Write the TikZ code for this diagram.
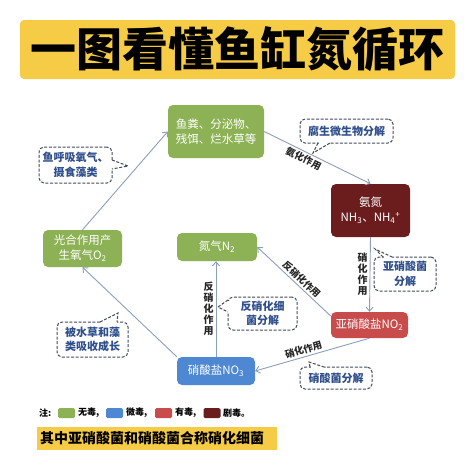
\documentclass[tikz,border=0pt]{standalone}
\usepackage{fontspec}
\setmainfont{Noto Sans CJK SC}
\usetikzlibrary{arrows.meta}
\definecolor{cgreen}{HTML}{8DB255}
\definecolor{cdred}{HTML}{6B1D1D}
\definecolor{cred}{HTML}{C94C4C}
\definecolor{cblue}{HTML}{4E88D2}
\definecolor{cyellow}{HTML}{F6CB45}
\definecolor{cbord}{HTML}{434B5A}
\definecolor{ctext}{HTML}{2E4E8C}
\definecolor{cline}{HTML}{8C9FBA}
\tikzset{
  box/.style={rounded corners=5pt, text=white, align=center, inner sep=0pt,
    font=\fontsize{11.5}{15}\selectfont},
  arr/.style={draw=cline, line width=0.9pt, -{Straight Barb[length=4pt,width=7pt]}},
  bubble/.style={draw=cbord, dash pattern=on 3pt off 1.6pt, line width=1pt,
    rounded corners=5pt, fill=white, text=ctext, align=center, inner sep=0pt,
    font=\bfseries\fontsize{11}{14.5}\selectfont},
  tailline/.style={draw=cbord, dash pattern=on 3pt off 1.6pt, line width=1pt},
  elabel/.style={font=\bfseries\fontsize{9.5}{11}\selectfont, text=black!85, inner sep=2pt},
  vlabel/.style={font=\bfseries\fontsize{10}{11}\selectfont, text=black!85, align=center, inner sep=2pt},
  swatch/.style={rounded corners=1.5pt, minimum width=17pt, minimum height=10pt, inner sep=0pt},
  legtext/.style={font=\bfseries\fontsize{9}{10}\selectfont, anchor=west, inner sep=0pt}
}
\begin{document}
\begin{tikzpicture}[x=1pt,y=-1pt]
\useasboundingbox (0,0) rectangle (474,474);
\fill[white] (0,0) rectangle (474,474);

% title
\node[fill=cyellow, rounded corners=4pt, minimum width=435pt, minimum height=59pt,
  inner sep=0pt, font=\bfseries\fontsize{46}{50}\selectfont] (title) at (237.5,49.5) {一图看懂鱼缸氮循环};

% main nodes
\node[box, fill=cgreen, minimum width=96pt, minimum height=53pt] (n1) at (216,131.5) {鱼粪、分泌物、\\残饵、烂水草等};
\node[box, fill=cdred, minimum width=79pt, minimum height=53pt] (n2) at (370.5,210.5) {氨氮\\NH\textsubscript{3}、NH\textsubscript{4}\textsuperscript{+}};
\node[box, fill=cred, minimum width=77pt, minimum height=26pt] (n3) at (369.5,325) {亚硝酸盐NO\textsubscript{2}};
\node[box, fill=cblue, minimum width=78pt, minimum height=28pt] (n4) at (216,371) {硝酸盐NO\textsubscript{3}};
\node[box, fill=cgreen, minimum width=80pt, minimum height=28pt] (n5) at (217,247) {氮气N\textsubscript{2}};
\node[box, fill=cgreen, minimum width=79pt, minimum height=37pt] (n6) at (82.5,248.5) {光合作用产\\生氧气O\textsubscript{2}};

% connectors
\draw[arr] (n1.east) -- (n2.north) node[elabel, pos=0.4, sloped, below] {氨化作用};
\draw[arr] (n2.south) -- (n3.north) node[vlabel, midway, left] {硝\\化\\作\\用};
\draw[arr] (n3.south) -- (n4.east) node[elabel, pos=0.56, sloped, above] {硝化作用};
\draw[arr] (n3.167) -- (n5.east) node[elabel, pos=0.46, sloped, above] {反硝化作用};
\draw[arr] (n4.north) -- (n4.north |- n5.south) node[vlabel, midway, left] {反\\硝\\化\\作\\用};
\draw[arr] (n4.north west) -- (n6.south);
\draw[arr] (n6.north) -- (n1.west);

% callouts
\node[bubble, minimum width=93pt, minimum height=24pt] (c1) at (346.5,131) {腐生微生物分解};
\coordinate (t1) at (313,153);
\fill[white] (318.5,140) rectangle (329.5,143.7);
\draw[tailline] (318,143) -- (t1) -- (330,143);

\node[bubble, minimum width=73pt, minimum height=36pt] (c2) at (75.5,165) {鱼呼吸氧气、\\摄食藻类};
\coordinate (t2) at (128,166);
\fill[white] (109,160.5) rectangle (112.7,168.5);
\draw[tailline] (112,160) -- (t2) -- (112,169);

\node[bubble, minimum width=69pt, minimum height=33pt] (c3) at (262.5,313.5) {反硝化细\\菌分解};
\coordinate (t3) at (218,307);
\fill[white] (227.3,300.5) rectangle (231,311.5);
\draw[tailline] (228,300) -- (t3) -- (228,312);

\node[bubble, minimum width=62pt, minimum height=34pt] (c4) at (405,274) {亚硝酸菌\\分解};
\coordinate (t4) at (375,249);
\fill[white] (383.5,256.3) rectangle (391.5,260);
\draw[tailline] (383,257) -- (t4) -- (392,257);

\node[bubble, minimum width=72pt, minimum height=22pt] (c5) at (336,378) {硝酸菌分解};
\coordinate (t5) at (309,362);
\fill[white] (310.5,366.3) rectangle (323.5,370);
\draw[tailline] (310,367) -- (t5) -- (324,367);

\node[bubble, minimum width=71pt, minimum height=35pt] (c6) at (92.5,339.5) {被水草和藻\\类吸收成长};
\coordinate (t6) at (118,313);
\fill[white] (100.5,321.3) rectangle (116.5,325);
\draw[tailline] (100,322) -- (t6) -- (117,322);

% legend
\node[legtext] (lg) at (39,413) {注:};
\node[swatch, fill=cgreen] (s1) at (66.5,413) {};
\node[legtext] (l1) at (78,413) {无毒,};
\node[swatch, fill=cblue] (s2) at (114.5,413) {};
\node[legtext] (l2) at (126,413) {微毒,};
\node[swatch, fill=cred] (s3) at (163.5,413) {};
\node[legtext] (l3) at (175,413) {有毒,};
\node[swatch, fill=cdred] (s4) at (212,413) {};
\node[legtext] (l4) at (223,413) {剧毒。};

% bottom note
\node[fill=cyellow, anchor=west, minimum height=23pt, inner xsep=3pt, inner ysep=0pt,
  text width=234pt, align=left, font=\bfseries\fontsize{14}{16}\selectfont] (note) at (37,438.5) {其中亚硝酸菌和硝酸菌合称硝化细菌};
\end{tikzpicture}
\end{document}
